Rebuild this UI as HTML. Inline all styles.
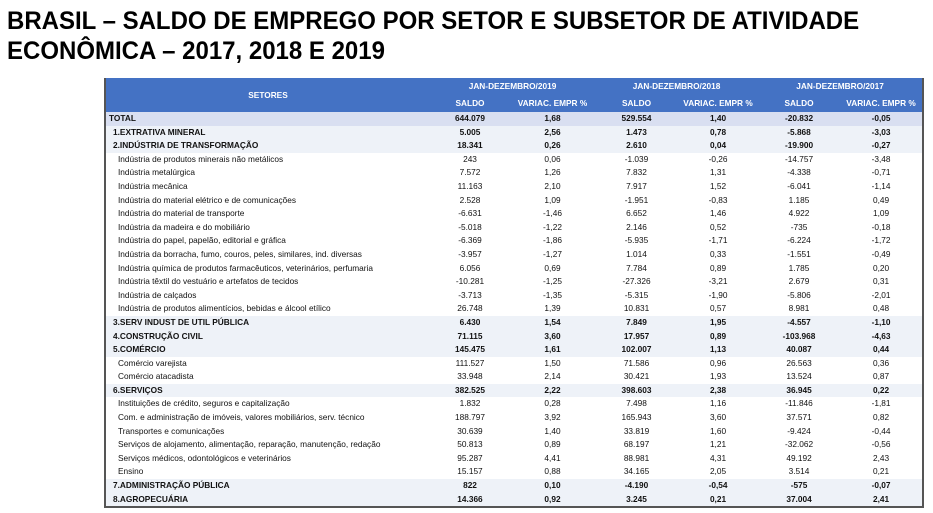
<!DOCTYPE html>
<html><head><meta charset="utf-8">
<style>
body{margin:0;width:933px;height:513px;background:#fff;font-family:"Liberation Sans",sans-serif;overflow:hidden;position:relative}
h1{position:absolute;left:7px;top:6px;margin:0;font-size:25px;line-height:30px;font-weight:bold;color:#000;white-space:nowrap;transform-origin:0 0;transform:scaleX(0.96)}
table{position:absolute;left:104px;top:78px;border-collapse:collapse;table-layout:fixed;width:818px;border-left:2px solid #555;border-right:2px solid #555;border-bottom:2px solid #555}
td,th{padding:0;font-size:8.3px;height:13.6px;line-height:13.6px;white-space:nowrap;overflow:hidden;color:#111}
th{background:#4472c4;color:#fff;font-weight:bold;text-align:center;height:17px;line-height:17px}
td.n{text-align:center}
tr.t td{background:#d9dff1;font-weight:bold}
tr.b td{background:#eef2f8;font-weight:bold}
tr.s td{background:#fff}
tr.t td:first-child{padding-left:3px}
tr.b td:first-child{padding-left:7px}
tr.s td:first-child{padding-left:12px}
</style></head><body>
<h1>BRASIL – SALDO DE EMPREGO POR SETOR E SUBSETOR DE ATIVIDADE<br>ECONÔMICA – 2017, 2018 E 2019</h1>
<table>
<colgroup><col style="width:325px"><col style="width:80px"><col style="width:85px"><col style="width:83px"><col style="width:80px"><col style="width:82px"><col style="width:83px"></colgroup>
<tr><th rowspan="2">SETORES</th><th colspan="2">JAN-DEZEMBRO/2019</th><th colspan="2">JAN-DEZEMBRO/2018</th><th colspan="2">JAN-DEZEMBRO/2017</th></tr>
<tr><th>SALDO</th><th>VARIAC. EMPR %</th><th>SALDO</th><th>VARIAC. EMPR %</th><th>SALDO</th><th>VARIAC. EMPR %</th></tr>
<tr class="t"><td>TOTAL</td><td class="n">644.079</td><td class="n">1,68</td><td class="n">529.554</td><td class="n">1,40</td><td class="n">-20.832</td><td class="n">-0,05</td></tr>
<tr class="b"><td>1.EXTRATIVA MINERAL</td><td class="n">5.005</td><td class="n">2,56</td><td class="n">1.473</td><td class="n">0,78</td><td class="n">-5.868</td><td class="n">-3,03</td></tr>
<tr class="b"><td>2.INDÚSTRIA DE TRANSFORMAÇÃO</td><td class="n">18.341</td><td class="n">0,26</td><td class="n">2.610</td><td class="n">0,04</td><td class="n">-19.900</td><td class="n">-0,27</td></tr>
<tr class="s"><td>Indústria de produtos minerais não metálicos</td><td class="n">243</td><td class="n">0,06</td><td class="n">-1.039</td><td class="n">-0,26</td><td class="n">-14.757</td><td class="n">-3,48</td></tr>
<tr class="s"><td>Indústria metalúrgica</td><td class="n">7.572</td><td class="n">1,26</td><td class="n">7.832</td><td class="n">1,31</td><td class="n">-4.338</td><td class="n">-0,71</td></tr>
<tr class="s"><td>Indústria mecânica</td><td class="n">11.163</td><td class="n">2,10</td><td class="n">7.917</td><td class="n">1,52</td><td class="n">-6.041</td><td class="n">-1,14</td></tr>
<tr class="s"><td>Indústria do material elétrico e de comunicações</td><td class="n">2.528</td><td class="n">1,09</td><td class="n">-1.951</td><td class="n">-0,83</td><td class="n">1.185</td><td class="n">0,49</td></tr>
<tr class="s"><td>Indústria do material de transporte</td><td class="n">-6.631</td><td class="n">-1,46</td><td class="n">6.652</td><td class="n">1,46</td><td class="n">4.922</td><td class="n">1,09</td></tr>
<tr class="s"><td>Indústria da madeira e do mobiliário</td><td class="n">-5.018</td><td class="n">-1,22</td><td class="n">2.146</td><td class="n">0,52</td><td class="n">-735</td><td class="n">-0,18</td></tr>
<tr class="s"><td>Indústria do papel, papelão, editorial e gráfica</td><td class="n">-6.369</td><td class="n">-1,86</td><td class="n">-5.935</td><td class="n">-1,71</td><td class="n">-6.224</td><td class="n">-1,72</td></tr>
<tr class="s"><td>Indústria da borracha, fumo, couros, peles, similares, ind. diversas</td><td class="n">-3.957</td><td class="n">-1,27</td><td class="n">1.014</td><td class="n">0,33</td><td class="n">-1.551</td><td class="n">-0,49</td></tr>
<tr class="s"><td>Indústria química de produtos farmacêuticos, veterinários, perfumaria</td><td class="n">6.056</td><td class="n">0,69</td><td class="n">7.784</td><td class="n">0,89</td><td class="n">1.785</td><td class="n">0,20</td></tr>
<tr class="s"><td>Indústria têxtil do vestuário e artefatos de tecidos</td><td class="n">-10.281</td><td class="n">-1,25</td><td class="n">-27.326</td><td class="n">-3,21</td><td class="n">2.679</td><td class="n">0,31</td></tr>
<tr class="s"><td>Indústria de calçados</td><td class="n">-3.713</td><td class="n">-1,35</td><td class="n">-5.315</td><td class="n">-1,90</td><td class="n">-5.806</td><td class="n">-2,01</td></tr>
<tr class="s"><td>Indústria de produtos alimentícios, bebidas e álcool etílico</td><td class="n">26.748</td><td class="n">1,39</td><td class="n">10.831</td><td class="n">0,57</td><td class="n">8.981</td><td class="n">0,48</td></tr>
<tr class="b"><td>3.SERV INDUST DE UTIL PÚBLICA</td><td class="n">6.430</td><td class="n">1,54</td><td class="n">7.849</td><td class="n">1,95</td><td class="n">-4.557</td><td class="n">-1,10</td></tr>
<tr class="b"><td>4.CONSTRUÇÃO CIVIL</td><td class="n">71.115</td><td class="n">3,60</td><td class="n">17.957</td><td class="n">0,89</td><td class="n">-103.968</td><td class="n">-4,63</td></tr>
<tr class="b"><td>5.COMÉRCIO</td><td class="n">145.475</td><td class="n">1,61</td><td class="n">102.007</td><td class="n">1,13</td><td class="n">40.087</td><td class="n">0,44</td></tr>
<tr class="s"><td>Comércio varejista</td><td class="n">111.527</td><td class="n">1,50</td><td class="n">71.586</td><td class="n">0,96</td><td class="n">26.563</td><td class="n">0,36</td></tr>
<tr class="s"><td>Comércio atacadista</td><td class="n">33.948</td><td class="n">2,14</td><td class="n">30.421</td><td class="n">1,93</td><td class="n">13.524</td><td class="n">0,87</td></tr>
<tr class="b"><td>6.SERVIÇOS</td><td class="n">382.525</td><td class="n">2,22</td><td class="n">398.603</td><td class="n">2,38</td><td class="n">36.945</td><td class="n">0,22</td></tr>
<tr class="s"><td>Instituições de crédito, seguros e capitalização</td><td class="n">1.832</td><td class="n">0,28</td><td class="n">7.498</td><td class="n">1,16</td><td class="n">-11.846</td><td class="n">-1,81</td></tr>
<tr class="s"><td>Com. e administração de imóveis, valores mobiliários, serv. técnico</td><td class="n">188.797</td><td class="n">3,92</td><td class="n">165.943</td><td class="n">3,60</td><td class="n">37.571</td><td class="n">0,82</td></tr>
<tr class="s"><td>Transportes e comunicações</td><td class="n">30.639</td><td class="n">1,40</td><td class="n">33.819</td><td class="n">1,60</td><td class="n">-9.424</td><td class="n">-0,44</td></tr>
<tr class="s"><td>Serviços de alojamento, alimentação, reparação, manutenção, redação</td><td class="n">50.813</td><td class="n">0,89</td><td class="n">68.197</td><td class="n">1,21</td><td class="n">-32.062</td><td class="n">-0,56</td></tr>
<tr class="s"><td>Serviços médicos, odontológicos e veterinários</td><td class="n">95.287</td><td class="n">4,41</td><td class="n">88.981</td><td class="n">4,31</td><td class="n">49.192</td><td class="n">2,43</td></tr>
<tr class="s"><td>Ensino</td><td class="n">15.157</td><td class="n">0,88</td><td class="n">34.165</td><td class="n">2,05</td><td class="n">3.514</td><td class="n">0,21</td></tr>
<tr class="b"><td>7.ADMINISTRAÇÃO PÚBLICA</td><td class="n">822</td><td class="n">0,10</td><td class="n">-4.190</td><td class="n">-0,54</td><td class="n">-575</td><td class="n">-0,07</td></tr>
<tr class="b"><td>8.AGROPECUÁRIA</td><td class="n">14.366</td><td class="n">0,92</td><td class="n">3.245</td><td class="n">0,21</td><td class="n">37.004</td><td class="n">2,41</td></tr>
</table>
</body></html>
